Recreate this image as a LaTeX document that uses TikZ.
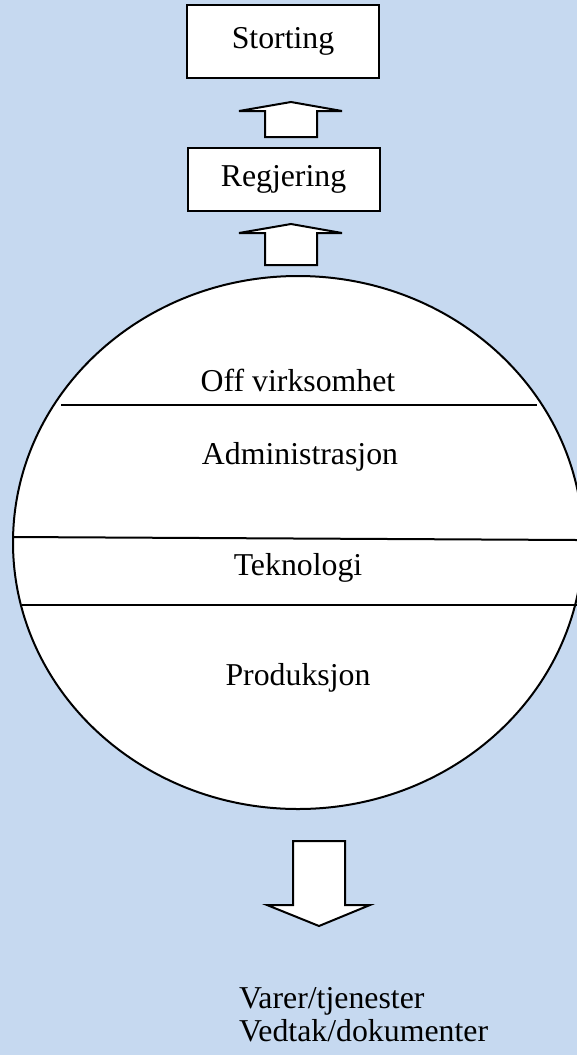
\documentclass[tikz,border=0pt]{standalone}
\usepackage{fontspec}
\setmainfont{Liberation Serif}
\definecolor{bgblue}{RGB}{198,217,240}
\begin{document}
\begin{tikzpicture}
[x=0.5pt,y=-0.5pt,line width=1pt,
 every node/.style={font=\fontsize{15.9}{19}\selectfont,inner sep=0pt},
 boxnode/.style={draw,fill=white,minimum width=96pt},
 blockarrow/.style={draw,fill=white,line join=miter}]
\fill[bgblue] (0,0) rectangle (577,1055);
\useasboundingbox (0,0) rectangle (577,1055);
\clip (0,0) rectangle (577,1055);
\node[boxnode,minimum height=36.5pt] (storting) at (283,41.5) {Storting};
\node[boxnode,minimum height=31.5pt] (regjering) at (283.5,179.5) {Regjering};
\foreach \t/\b in {102/137,224/265}
\draw[blockarrow] (265,\b) -- (265,\t+9) -- (239,\t+9) -- (291,\t) -- (342,\t+9) -- (317,\t+9) -- (317,\b) -- cycle;
\draw[fill=white] (298,542.5) ellipse [x radius=142.5pt, y radius=133.25pt];
\draw (61,405) -- (537,405);
\draw (13,537) -- (577,540);
\draw (22,605) -- (577,605);
\node[anchor=base] (off) at (298,391) {Off virksomhet};
\node[anchor=base] (admin) at (300,464) {Administrasjon};
\node[anchor=base] (tek) at (298,575) {Teknologi};
\node[anchor=base] (prod) at (298,685) {Produksjon};
\draw[blockarrow] (293,841) -- (345,841) -- (345,905) -- (370,905) -- (319,926) -- (267,905) -- (293,905) -- cycle;
\node[anchor=base west] (varer) at (238,1008) {Varer/tjenester};
\node[anchor=base west] (vedtak) at (238,1041) {Vedtak/dokumenter};
\end{tikzpicture}
\end{document}
